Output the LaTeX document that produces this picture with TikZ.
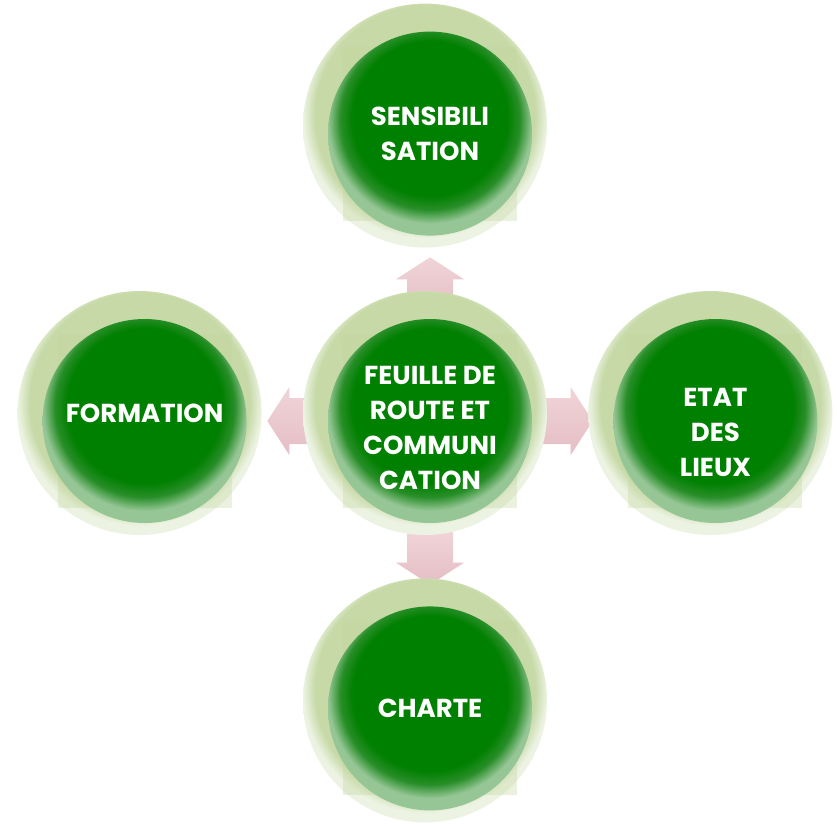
\documentclass[tikz,border=0pt]{standalone}
\usepackage{fontspec}
\setmainfont{Poppins}
\usetikzlibrary{positioning, calc, backgrounds}

\definecolor{ringgreen}{RGB}{198,217,166}
\definecolor{ringedge}{RGB}{236,243,226}
\definecolor{squaregreen}{RGB}{196,214,160}
\definecolor{darkgreen}{RGB}{0,128,0}
\definecolor{midgreen}{RGB}{40,142,40}
\definecolor{glowgreen}{RGB}{150,198,150}
\definecolor{pinktop}{RGB}{240,212,216}
\definecolor{pinkbot}{RGB}{228,190,197}

\pgfdeclareradialshading{ringshade}{\pgfpoint{0bp}{4bp}}{color(0bp)=(ringgreen); color(22.5bp)=(ringgreen); color(25bp)=(ringedge); color(50bp)=(ringedge)}
\pgfdeclareradialshading{coreshade}{\pgfpoint{0bp}{6bp}}{color(0bp)=(darkgreen); color(19bp)=(darkgreen); color(22bp)=(midgreen); color(25bp)=(glowgreen); color(50bp)=(glowgreen)}

\tikzset{
  ring/.style={circle, minimum size=244pt, inner sep=0pt, shade, shading=ringshade},
  core/.style={circle, minimum size=204pt, inner sep=0pt, shade, shading=coreshade,
    text=white, align=center, font=\bfseries\fontsize{26}{35}\selectfont},
  backsquare/.style={fill=squaregreen, opacity=.35, minimum size=174pt, inner sep=0pt},
  blockarrow/.pic={
    \shade[top color=pinktop, bottom color=pinkbot]
      (-34,-23) -- (-2,-23) -- (-2,-34) -- (20,0) -- (-2,34) -- (-2,23) -- (-34,23) -- cycle;
  }
}

\begin{document}
\begin{tikzpicture}[x=1pt, y=-1pt, node distance=43pt]
    \useasboundingbox (0,0) rectangle (837,825);

    % rings
    \node[ring] (cC) at (425,413) {};
    \node[ring, above=of cC] (cT) {};
    \node[ring, below=of cC] (cB) {};
    \node[ring, left=41pt of cC] (cL) {};
    \node[ring, right=41pt of cC] (cR) {};

    % faint squares behind the cores
    \foreach \n in {C,T,B,L,R}
        \node[backsquare, xshift=5pt, yshift=-8pt] (s\n) at (c\n) {};

    % green cores
    \node[core, xshift=5pt, yshift=-8pt] (gC) at (cC) {\rule{0pt}{32pt}FEUILLE DE\\ROUTE ET\\COMMUNI\\CATION};
    \node[core, xshift=5pt, yshift=-8pt] (gT) at (cT) {SENSIBILI\\SATION};
    \node[core, xshift=5pt, yshift=-8pt] (gB) at (cB) {CHARTE};
    \node[core, xshift=5pt, yshift=-8pt] (gL) at (cL) {FORMATION\rule[-16pt]{0pt}{16pt}};
    \node[core, xshift=5pt, yshift=-8pt] (gR) at (cR) {\rule{0pt}{42pt}ETAT\\DES\\LIEUX};

    % arrows under the circles
    \begin{scope}[on background layer]
        \pic[rotate=90] at ($(gC)!.5!(gT)$) {blockarrow};
        \pic[rotate=-90] at ($(gC)!.5!(gB)$) {blockarrow};
        \pic[rotate=180] at ($(gC)!.5!(gL)$) {blockarrow};
        \pic at ($(gC)!.5!(gR)$) {blockarrow};
    \end{scope}
\end{tikzpicture}
\end{document}
